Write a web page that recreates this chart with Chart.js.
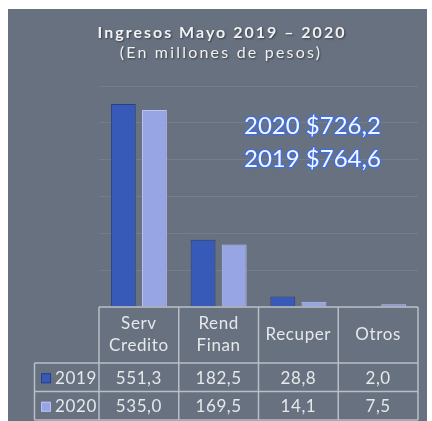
<!DOCTYPE html>
<html>
<head>
<meta charset="utf-8">
<script src="https://cdn.jsdelivr.net/npm/chart.js@4/dist/chart.umd.min.js"></script>
<style>
  html, body { margin: 0; padding: 0; background: #ffffff; }
  #wrap { position: absolute; left: 0; top: 0; width: 432px; height: 421px; }
</style>
</head>
<body>
<div id="wrap"><canvas id="c" width="432" height="421"></canvas></div>
<script>
const titleText = 'Ingresos Mayo 2019 – 2020';
const subtitleText = '(En millones de pesos)';
const categories = [['Serv', 'Credito'], ['Rend', 'Finan'], ['Recuper'], ['Otros']];
const seriesLabels = ['2019', '2020'];
const values2019 = [551.3, 182.5, 28.8, 2.0];
const values2020 = [535.0, 169.5, 14.1, 7.5];
const totalLabels = ['2020 $726,2', '2019 $764,6'];
const yMax = 600;
const yStep = 100;

const BG = '#67717f';
const LINE = '#b9bec7';
const TXT = '#e6e8ec';
const C2019 = '#3759b8';
const C2019B = '#27407f';
const C2020 = '#98a5e4';
const C2020B = '#b9c2f2';

function fmt(v) { return v.toFixed(1).replace('.', ','); }

const decor = {
  id: 'decor',
  beforeDraw(chart) {
    const ctx = chart.ctx;
    ctx.save();
    ctx.fillStyle = BG;
    ctx.fillRect(8, 9, 419, 412);
    ctx.restore();
  },
  afterDraw(chart) {
    const ctx = chart.ctx;
    const x = chart.scales.x;
    const y = chart.scales.y;
    ctx.save();
    // Title
    ctx.textAlign = 'center';
    ctx.textBaseline = 'middle';
    ctx.shadowColor = 'rgba(0,0,0,0.45)';
    ctx.shadowOffsetX = 1; ctx.shadowOffsetY = 1; ctx.shadowBlur = 2;
    ctx.fillStyle = '#f2f2f4';
    ctx.font = 'bold 16px Lato';
    ctx.letterSpacing = '2px';
    ctx.fillText(titleText, 222, 33);
    ctx.font = '16px Lato';
    ctx.letterSpacing = '2.2px';
    ctx.fillText(subtitleText, 221, 53);
    ctx.shadowColor = 'transparent';
    ctx.letterSpacing = '0px';

    // Totals annotation
    ctx.font = '24px Lato';
    ctx.textAlign = 'left';
    ctx.lineJoin = 'round';
    totalLabels.forEach((t, i) => {
      const ty = 126 + i * 33;
      ctx.strokeStyle = '#3c6fe6';
      ctx.lineWidth = 2.5;
      ctx.strokeText(t, 244, ty);
      ctx.fillStyle = '#f4f6ff';
      ctx.fillText(t, 244, ty);
    });

    // Data table
    const n = categories.length;
    const half = (x.getPixelForValue(1) - x.getPixelForValue(0)) / 2;
    const colEdges = [];
    for (let i = 0; i < n; i++) colEdges.push(x.getPixelForValue(i) - half);
    colEdges.push(x.getPixelForValue(n - 1) + half);
    const top = y.getPixelForValue(0);
    const hdrBottom = top + 56;
    const rowH = 28.5;
    const legendLeft = 34.5;
    const bottom = hdrBottom + rowH * 2;

    ctx.strokeStyle = LINE;
    ctx.lineWidth = 1.5;
    ctx.beginPath();
    ctx.moveTo(colEdges[0], top); ctx.lineTo(colEdges[n], top);
    for (let r = 0; r <= 2; r++) {
      const yy = hdrBottom + r * rowH;
      ctx.moveTo(legendLeft, yy); ctx.lineTo(colEdges[n], yy);
    }
    colEdges.forEach(cx => { ctx.moveTo(cx, top); ctx.lineTo(cx, bottom); });
    ctx.moveTo(legendLeft, hdrBottom); ctx.lineTo(legendLeft, bottom);
    ctx.stroke();

    ctx.fillStyle = TXT;
    ctx.font = '17px Lato';
    ctx.letterSpacing = '0.6px';
    ctx.textAlign = 'center';
    ctx.textBaseline = 'middle';
    const hdrMid = (top + hdrBottom) / 2;
    categories.forEach((lines, i) => {
      const cx = x.getPixelForValue(i);
      const lh = 22;
      const start = hdrMid - (lines.length - 1) * lh / 2;
      lines.forEach((ln, k) => ctx.fillText(ln, cx, start + k * lh));
    });
    const series = [values2019, values2020];
    const colors = [[C2019, C2019B], [C2020, C2020B]];
    series.forEach((vals, r) => {
      const yy = hdrBottom + rowH * r + rowH / 2 + 1;
      vals.forEach((v, i) => ctx.fillText(fmt(v), x.getPixelForValue(i), yy));
      // legend key
      ctx.fillStyle = colors[r][0];
      ctx.fillRect(41, yy - 5, 10, 10);
      ctx.strokeStyle = colors[r][1];
      ctx.lineWidth = 1;
      ctx.strokeRect(41.5, yy - 4.5, 9, 9);
      ctx.fillStyle = TXT;
      ctx.textAlign = 'left';
      ctx.fillText(seriesLabels[r], 55, yy);
      ctx.textAlign = 'center';
    });
    ctx.restore();
  }
};

new Chart(document.getElementById('c'), {
  type: 'bar',
  data: {
    labels: categories,
    datasets: [
      { label: seriesLabels[0], data: values2019, backgroundColor: C2019, borderColor: C2019B, borderWidth: 1,
        categoryPercentage: 0.78, barPercentage: 0.8 },
      { label: seriesLabels[1], data: values2020, backgroundColor: C2020, borderColor: C2020B, borderWidth: 1,
        categoryPercentage: 0.78, barPercentage: 0.8 }
    ]
  },
  options: {
    responsive: false,
    devicePixelRatio: 1,
    animation: false,
    layout: { padding: { left: 99, right: 14, top: 86, bottom: 114 } },
    plugins: { legend: { display: false }, title: { display: false }, tooltip: { enabled: false } },
    scales: {
      x: { display: false },
      y: {
        display: true,
        min: 0, max: yMax,
        ticks: { display: false, stepSize: yStep },
        border: { display: false },
        grid: { color: 'rgba(255,255,255,0.09)', lineWidth: 1, drawTicks: false }
      }
    }
  },
  plugins: [decor]
});
</script>
</body>
</html>
